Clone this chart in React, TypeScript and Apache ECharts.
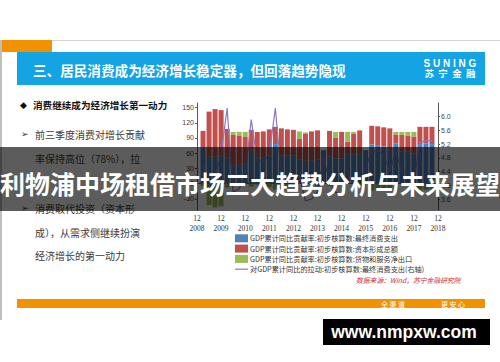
import React, { useEffect, useRef } from "react";
import * as echarts from "echarts";

// Quarterly cumulative data, 2009Q1 .. 2018Q3
const quarters = [
  "2009Q1", "2009Q2", "2009Q3", "2009Q4",
  "2010Q1", "2010Q2", "2010Q3", "2010Q4",
  "2011Q1", "2011Q2", "2011Q3", "2011Q4",
  "2012Q1", "2012Q2", "2012Q3", "2012Q4",
  "2013Q1", "2013Q2", "2013Q3", "2013Q4",
  "2014Q1", "2014Q2", "2014Q3", "2014Q4",
  "2015Q1", "2015Q2", "2015Q3", "2015Q4",
  "2016Q1", "2016Q2", "2016Q3", "2016Q4",
  "2017Q1", "2017Q2", "2017Q3", "2017Q4",
  "2018Q1", "2018Q2", "2018Q3",
];
const consumption = [
  72, 53, 53, 55, 52, 37, 37, 40, 65, 51, 51, 55, 78, 55, 55, 55, 48, 45, 46, 48,
  66, 54, 50, 50, 58, 58, 58, 66, 77, 76, 73, 66, 79, 63, 64, 59, 78, 79, 78,
];
const investment = [
  32, 89, 94, 90, 56, 59, 57, 52, 41, 51, 52, 52, 34, 54, 52, 51, 40, 54, 57, 57,
  0, 50, 41, 52, 25, 40, 47, 0, 37, 37, 38, 43, 18, 33, 31, 34, 34, 33, 34,
];
const netExports = [
  -4, -42, -47, -45, -8, 6, 8, 10, -6, -2, -3, -7, -12, -9, -7, -6, 15, 2, -3, -5,
  0, -4, 11, -2, 19, 4, -5, 0, -14, -13, -11, -9, 5, 6, 7, 9, -12, -12, -12,
];
const consumptionPull = [
  4.6, 3.9, 4.3, 4.9, 6.25, 3.8, 3.9, 4.3, 5.92, 4.7, 4.7, 4.9, 6.25, 4.3, 4.2, 4.3,
  4.3, 3.55, 3.6, 3.8, 4.8, 4.1, 3.8, 3.7, 4.2, 4.1, 4.1, 4.5, 5.0, 5.0, 4.9, 4.4,
  5.0, 4.4, 4.4, 4.1, 5.25, 5.3, 5.3,
];
const axisStart = "2008Q4";
const axisEnd = "2018Q4";
const leftTicks = [-30, 0, 30, 60, 90, 120, 150];
const rightTicks = [3.6, 4.0, 4.4, 4.8, 5.2, 5.6, 6.0];

const seriesNames = [
  "GDP累计同比贡献率:初步核算数:最终消费支出",
  "GDP累计同比贡献率:初步核算数:资本形成总额",
  "GDP累计同比贡献率:初步核算数:货物和服务净出口",
  "对GDP累计同比的拉动:初步核算数:最终消费支出(右轴)",
];
const COLORS = ["#4F81BD", "#C0504D", "#9BBB59", "#8B7BBF"];

const bulletLines = [
  { text: "前三季度消费对增长贡献", y: 134, mark: true },
  { text: "率保持高位（78%），拉", y: 158, mark: false },
  { text: "消费取代投资（资本形", y: 208, mark: true },
  { text: "成），从需求侧继续扮演", y: 232, mark: false },
  { text: "经济增长的第一动力", y: 255, mark: false },
];

const CJK = "'Noto Sans CJK SC', 'Noto Sans', sans-serif";

function buildOption() {
  const categories = [axisStart, ...quarters, axisEnd];
  const pad = (arr: number[]) => [null, ...arr, null];
  const barBase = {
    type: "bar" as const,
    stack: "gdp",
    barWidth: 5,
    xAxisIndex: 0,
    yAxisIndex: 0,
  };
  const graphics: any[] = [
    // slide frame
    { type: "rect", shape: { x: 0, y: 40, width: 2, height: 280 }, style: { fill: "#bfbfbf" }, z: 1 },
    { type: "rect", shape: { x: 52, y: 40, width: 448, height: 1 }, style: { fill: "#d4d4d4" }, z: 1 },
    { type: "rect", shape: { x: 2, y: 40, width: 50, height: 12 }, style: { fill: "#F39200" }, z: 1 },
    { type: "rect", shape: { x: 17, y: 52, width: 468, height: 33 }, style: { fill: "#14A3E3" }, z: 1 },
    {
      type: "text", x: 33, y: 69.5, z: 2,
      style: { text: "三、居民消费成为经济增长稳定器，但回落趋势隐现", fill: "#fff", font: `bold 13.6px ${CJK}`, verticalAlign: "middle" },
    },
    {
      type: "text", x: 450, y: 63, z: 2,
      style: { text: "S U N I N G", fill: "#fff", font: "bold 10px 'Liberation Sans', sans-serif", align: "center", verticalAlign: "middle" },
    },
    {
      type: "text", x: 450, y: 72.5, z: 2,
      style: { text: "苏  宁  金  融", fill: "#fff", font: `bold 9.5px ${CJK}`, align: "center", verticalAlign: "middle" },
    },
    // left panel
    { type: "text", x: 20, y: 105, z: 2, style: { text: "◆", fill: "#111", font: "9px 'DejaVu Sans', sans-serif", verticalAlign: "middle" } },
    {
      type: "text", x: 33, y: 105, z: 2,
      style: { text: "消费继续成为经济增长第一动力", fill: "#111", font: `bold 9.6px ${CJK}`, verticalAlign: "middle" },
    },
    // bottom orange bar
    { type: "rect", shape: { x: 17, y: 299, width: 468, height: 9 }, style: { fill: "#F39200" }, z: 1 },
    {
      type: "text", x: 393, y: 304, z: 2,
      style: { text: "全 渠 道", fill: "#fff", font: `7px ${CJK}`, align: "center", verticalAlign: "middle" },
    },
    {
      type: "text", x: 453, y: 304, z: 2,
      style: { text: "更 安 心", fill: "#fff", font: `7px ${CJK}`, align: "center", verticalAlign: "middle" },
    },
    // source
    {
      type: "text", x: 356, y: 280, z: 2,
      style: { text: "数据来源：Wind，苏宁金融研究院", fill: "#D0282C", font: `italic 6.8px ${CJK}`, verticalAlign: "middle" },
    },
  ];
  bulletLines.forEach((l) => {
    if (l.mark) {
      graphics.push({ type: "text", x: 21, y: l.y, z: 2, style: { text: "➢", fill: "#333", font: "9px 'DejaVu Sans', sans-serif", verticalAlign: "middle" } });
    }
    graphics.push({
      type: "text", x: 35, y: l.y, z: 2,
      style: { text: l.text, fill: "#3a3a3a", font: `10px ${CJK}`, verticalAlign: "middle" },
    });
  });
  // legend
  const legendY = [238.3, 248.6, 258.9, 269.2];
  seriesNames.forEach((name, i) => {
    if (i < 3) {
      graphics.push({ type: "rect", shape: { x: 235, y: legendY[i] - 4, width: 13, height: 8 }, style: { fill: COLORS[i] }, z: 2 });
    } else {
      graphics.push({ type: "line", shape: { x1: 235, y1: legendY[i], x2: 248, y2: legendY[i] }, style: { stroke: COLORS[i], lineWidth: 1.2 }, z: 2 });
    }
    graphics.push({
      type: "text", x: 250, y: legendY[i], z: 2,
      style: { text: name, fill: "#333", font: `7.2px ${CJK}`, verticalAlign: "middle" },
    });
  });
  // overlay band with headline
  graphics.push({ type: "rect", shape: { x: 0, y: 147, width: 500, height: 64 }, style: { fill: "rgba(0,0,0,0.64)" }, z: 100 });
  graphics.push({
    type: "text", x: 250, y: 183, z: 101,
    style: { text: "利物浦中场租借市场三大趋势分析与未来展望", fill: "#fff", font: `bold 25px ${CJK}`, align: "center", verticalAlign: "middle" },
  });
  // watermark
  graphics.push({ type: "rect", shape: { x: 323, y: 319, width: 167, height: 26 }, style: { fill: "#000" }, z: 100 });
  graphics.push({
    type: "text", x: 404, y: 332, z: 101,
    style: { text: "www.nmpxw.com", fill: "#fff", font: "bold 17.5px 'Liberation Sans', sans-serif", align: "center", verticalAlign: "middle" },
  });

  return {
    animation: false,
    backgroundColor: "#fff",
    grid: { left: 197, right: 62, top: 103, bottom: 152, containLabel: false },
    xAxis: {
      type: "category",
      data: categories,
      boundaryGap: false,
      axisLine: { show: true, lineStyle: { color: "#595959", width: 1 } },
      axisTick: { show: true, inside: true, length: 2, interval: 0, lineStyle: { color: "#595959" } },
      splitLine: { show: false },
      axisLabel: {
        interval: 3,
        margin: 3,
        fontSize: 7.5,
        lineHeight: 10,
        color: "#333",
        fontFamily: "'Liberation Serif', serif",
        formatter: (v: string) => {
          const y = parseInt(v.slice(0, 4), 10);
          const q = parseInt(v.slice(5), 10);
          const year = q === 4 ? y : y - 1;
          return `12\n${year}`;
        },
      },
    },
    yAxis: [
      {
        type: "value",
        min: -52,
        max: 159,
        axisLine: { show: true, lineStyle: { color: "#595959" } },
        axisTick: { show: true, length: 2, customValues: leftTicks, lineStyle: { color: "#595959" } },
        splitLine: { show: false },
        axisLabel: { customValues: leftTicks, fontSize: 7, color: "#444", margin: 3, fontFamily: "'Liberation Sans', sans-serif" },
      },
      {
        type: "value",
        position: "right",
        min: 3.28,
        max: 6.4,
        axisLine: { show: true, lineStyle: { color: "#595959" } },
        axisTick: { show: true, length: 2, customValues: rightTicks, lineStyle: { color: "#595959" } },
        splitLine: { show: false },
        axisLabel: {
          customValues: rightTicks,
          fontSize: 7,
          color: "#444",
          margin: 3,
          fontFamily: "'Liberation Sans', sans-serif",
          formatter: (v: number) => v.toFixed(1),
        },
      },
    ],
    series: [
      { ...barBase, name: seriesNames[0], itemStyle: { color: COLORS[0] }, data: pad(consumption) },
      { ...barBase, name: seriesNames[1], itemStyle: { color: COLORS[1] }, data: pad(investment) },
      { ...barBase, name: seriesNames[2], itemStyle: { color: COLORS[2] }, data: pad(netExports) },
      {
        type: "line",
        name: seriesNames[3],
        yAxisIndex: 1,
        symbol: "none",
        connectNulls: false,
        lineStyle: { color: COLORS[3], width: 1.2 },
        z: 5,
        data: pad(consumptionPull),
      },
    ],
    graphic: graphics,
  };
}

export default function App() {
  const ref = useRef<HTMLDivElement>(null);
  useEffect(() => {
    if (!ref.current) return;
    const chart = echarts.init(ref.current, null, { renderer: "svg" });
    chart.setOption(buildOption() as any);
    return () => chart.dispose();
  }, []);
  return (
    <div
      ref={ref}
      style={{ position: "fixed", left: 0, top: 0, width: 500, height: 362, background: "#fff" }}
    />
  );
}
